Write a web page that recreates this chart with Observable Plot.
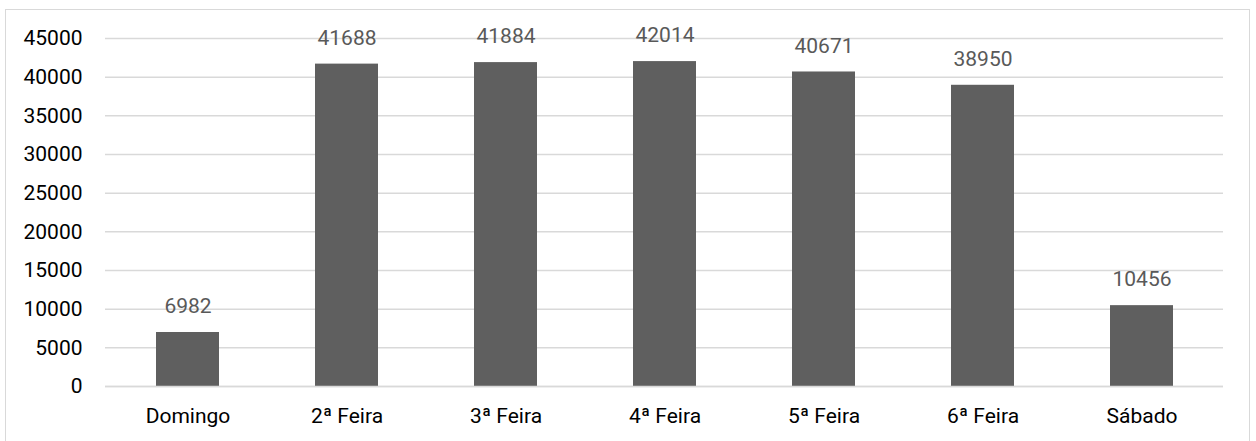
<!DOCTYPE html>
<html>
<head>
<meta charset="utf-8">
<script src="https://cdn.jsdelivr.net/npm/d3@7"></script>
<script src="https://cdn.jsdelivr.net/npm/@observablehq/plot@0.6"></script>
<style>
  html, body { margin: 0; padding: 0; background: #fff; }
  #wrap { position: relative; width: 1256px; height: 441px; overflow: hidden; }
  #frame { position: absolute; left: 5px; top: 9px; width: 1245px; height: 440px; border: 1.5px solid #d9d9d9; box-sizing: border-box; pointer-events: none; }
</style>
</head>
<body>
<div id="wrap"><div id="frame"></div></div>
<script>
const days = ["Domingo", "2ª Feira", "3ª Feira", "4ª Feira", "5ª Feira", "6ª Feira", "Sábado"];
const counts = [6982, 41688, 41884, 42014, 40671, 38950, 10456];
const yTicks = [0, 5000, 10000, 15000, 20000, 25000, 30000, 35000, 40000, 45000];

const data = days.map((d, i) => ({day: d, value: counts[i]}));

const chart = Plot.plot({
  width: 1256,
  height: 441,
  marginLeft: 105,
  marginRight: 33,
  marginTop: 38,
  marginBottom: 55,
  style: {fontFamily: "Roboto, sans-serif", fontSize: "21px", background: "transparent"},
  x: {domain: days, paddingInner: 0.605, paddingOuter: 0.3025, label: null},
  y: {domain: [0, 45000], label: null},
  marks: [
    Plot.gridY(yTicks, {stroke: "#d9d9d9", strokeOpacity: 1, strokeWidth: 1.5}),
    Plot.barY(data, {x: "day", y: "value", fill: "#5f5f5f"}),
    Plot.ruleY([0], {stroke: "#d9d9d9", strokeWidth: 1.5}),
    Plot.text(data, {x: "day", y: "value", text: d => String(d.value), dy: -26, lineAnchor: "middle", fill: "#595959", fontSize: 21}),
    Plot.axisY(yTicks, {tickSize: 0, tickPadding: 23, tickFormat: d => String(d), fill: "#000", fontSize: 21}),
    Plot.axisX({tickSize: 0, tickPadding: 22, fill: "#000", fontSize: 21})
  ]
});
document.getElementById("wrap").appendChild(chart);
</script>
</body>
</html>
